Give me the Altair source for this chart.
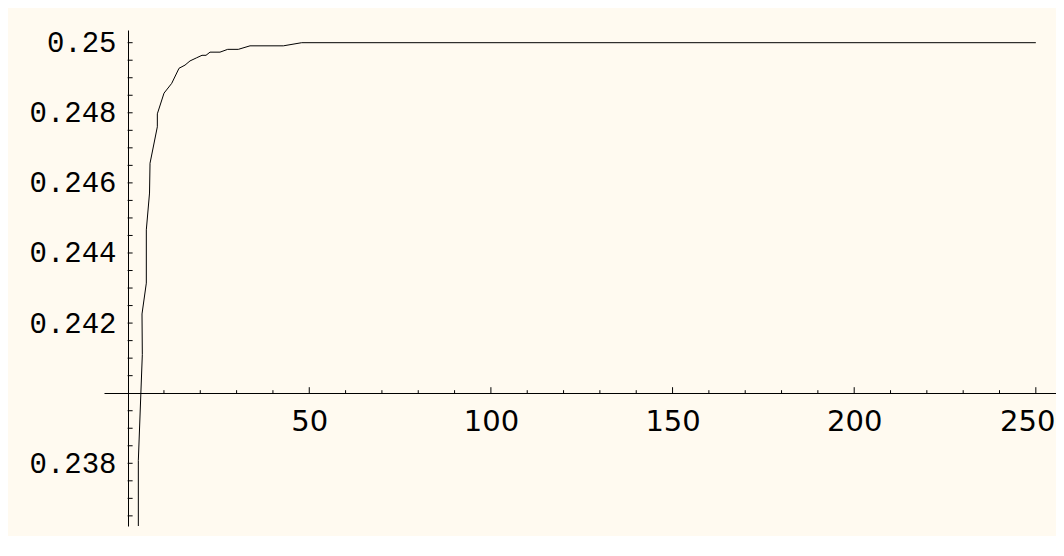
import altair as alt
import pandas as pd

# curve vertices (n, value)
n_vals = [2.95, 2.95, 4.05, 3.96, 5.15, 5.15, 6.03, 6.17, 8.18, 8.18, 10.02, 12.14,
          14.15, 15.8, 17.18, 19.02, 20.48, 21.58, 22.68, 25.43, 27.55, 30.47,
          33.69, 42.86, 47.92, 250.0]
y_vals = [0.2350, 0.23808, 0.24110, 0.24226, 0.24314, 0.24466, 0.24571, 0.24656,
          0.24760, 0.24797, 0.24856, 0.24884, 0.24927, 0.24936, 0.24948, 0.24957,
          0.24964, 0.24964, 0.24973, 0.24973, 0.24981, 0.24981, 0.24991, 0.24991,
          0.25, 0.25]

x_labels = [50, 100, 150, 200, 250]
x_minor = [10, 20, 30, 40, 60, 70, 80, 90, 110, 120, 130, 140, 160, 170, 180, 190,
           210, 220, 230, 240]
y_labels = [0.238, 0.242, 0.244, 0.246, 0.248, 0.25]
y_ticks = [0.2365, 0.237, 0.2375, 0.238, 0.2385, 0.239, 0.2395, 0.2405, 0.241,
           0.2415, 0.242, 0.2425, 0.243, 0.2435, 0.244, 0.2445, 0.245, 0.2455,
           0.246, 0.2465, 0.247, 0.2475, 0.248, 0.2485, 0.249, 0.2495, 0.25]

x_origin = 0
y_origin = 0.24

df = pd.DataFrame({"i": list(range(len(n_vals))), "n": n_vals, "v": y_vals})
xs = alt.Scale(domain=[-6.50, 255.55], nice=False, zero=False)
ys = alt.Scale(domain=[0.236211, 0.250362], nice=False, zero=False)

line = alt.Chart(df).mark_line(color="black", strokeWidth=1, clip=True).encode(
    x=alt.X("n:Q", scale=xs,
            axis=alt.Axis(values=x_labels, orient="bottom", offset=-133, ticks=False,
                          labelPadding=14, labelFont="DejaVu Sans", labelFontSize=29,
                          labelColor="black", domainColor="black", domainWidth=1,
                          grid=False, title=None, labelFlush=25, labelFlushOffset=19,
                          labelOverlap=False)),
    y=alt.Y("v:Q", scale=ys,
            axis=alt.Axis(values=y_labels, format=".3~f", orient="left", offset=-24,
                          ticks=False, labelPadding=12, labelFont="Liberation Mono",
                          labelFontSize=29, labelColor="black", domainColor="black",
                          domainWidth=1, grid=False, title=None, labelFlush=False,
                          labelOverlap=False)),
    order="i:Q",
)

xmaj = alt.Chart(pd.DataFrame({"t": x_labels})).mark_rule(
    color="black", strokeWidth=1, y2Offset=-6).encode(
    x=alt.X("t:Q", scale=xs), y=alt.datum(y_origin, scale=ys), y2=alt.datum(y_origin))
xmin = alt.Chart(pd.DataFrame({"t": x_minor})).mark_rule(
    color="black", strokeWidth=1, y2Offset=-3).encode(
    x=alt.X("t:Q", scale=xs), y=alt.datum(y_origin, scale=ys), y2=alt.datum(y_origin))
yt = alt.Chart(pd.DataFrame({"t": y_ticks})).mark_rule(
    color="black", strokeWidth=1, x2Offset=5).encode(
    y=alt.Y("t:Q", scale=ys), x=alt.datum(x_origin, scale=xs), x2=alt.datum(x_origin))

chart = alt.layer(line, xmaj, xmin, yt).properties(
    width=952, height=496,
    autosize=alt.AutoSizeParams(type="none"),
    padding={"left": 96, "top": 22, "right": 0, "bottom": 10},
    background="#fffaf0",
).configure_view(stroke=None)

chart.save("out.html", embed_options={"renderer": "svg", "actions": False})
